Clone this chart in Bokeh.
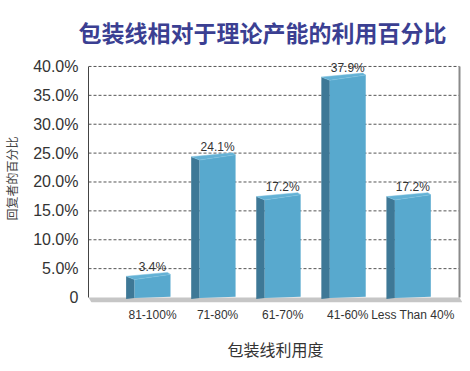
from bokeh.plotting import figure
from bokeh.models import FixedTicker, Range1d, ColumnDataSource
from bokeh.embed import file_html
from bokeh.resources import INLINE

# ---- data ----
categories = ["81-100%", "71-80%", "61-70%", "41-60%", "Less Than 40%"]
values = [3.4, 24.1, 17.2, 37.9, 17.2]
bar_labels = ["3.4%", "24.1%", "17.2%", "37.9%", "17.2%"]
y_ticks = [0, 5, 10, 15, 20, 25, 30, 35, 40]
y_tick_labels = ["0", "5.0%", "10.0%", "15.0%", "20.0%", "25.0%", "30.0%", "35.0%", "40.0%"]
title_text = "包装线相对于理论产能的利用百分比"
x_title = "包装线利用度"
y_title = "回复者的百分比"

# ---- geometry (styles / layout) ----
X_START, X_END = 0.016, 5.763
WALL_X = 5.717
Y_START, Y_END = -0.862, 42.07
FRAME_LEFT = 87
FRAME_BOTTOM = 303
HW = 0.276      # half width of the bar front
D = 0.13        # depth of the side face
FRONT = "#58A9CE"
SIDE = "#3E7896"
TOP = "#63B1D5"

xs_pos = [i + 1 for i in range(len(categories))]

p = figure(width=462, height=363, output_backend="svg", toolbar_location=None,
           x_range=Range1d(X_START, X_END), y_range=Range1d(Y_START, Y_END),
           min_border_left=FRAME_LEFT, min_border_right=0, min_border_top=54,
           min_border_bottom=363 - FRAME_BOTTOM)
p.outline_line_color = None
p.xgrid.visible = False
p.ygrid.visible = False
p.background_fill_color = "white"

# title
p.title.text = title_text
p.title.text_font = "Noto Sans CJK SC"
p.title.text_font_size = "23px"
p.title.text_font_style = "bold"
p.title.text_color = "#3B3F92"
p.title.align = "left"
p.title.offset = -10
p.title.standoff = 12

# dashed gridlines
grid_y = [t for t in y_ticks if t > 0]
p.segment(x0=[X_START] * len(grid_y), y0=grid_y, x1=[WALL_X] * len(grid_y), y1=grid_y,
          line_color="#555555", line_width=1, line_dash="3 2")

# floor
p.patch(x=[X_START, WALL_X, X_END, X_START + 0.046],
        y=[0, 0, Y_START, Y_START], fill_color="#C6C6C6", line_color=None)

# right wall
p.segment(x0=[WALL_X], y0=[0], x1=[WALL_X], y1=[y_ticks[-1]], line_color="#8A8A8A", line_width=2)

# bars (pseudo 3D)
side_xs, side_ys, front_xs, front_ys, top_xs, top_ys = [], [], [], [], [], []
for c, v in zip(xs_pos, values):
    x0, x1 = c - HW, c + HW
    side_xs.append([x0 - D, x0, x0, x0 - D])
    side_ys.append([-0.25, -0.1, v - 0.3, v + 0.27])
    front_xs.append([x0, x1, x1, x0])
    front_ys.append([-0.1, 0.15, v + 0.6, v - 0.3])
    top_xs.append([x0 - D, x0, x1, x1 - 0.046])
    top_ys.append([v + 0.27, v - 0.3, v + 0.6, v + 0.95])

p.patches(xs=side_xs, ys=side_ys, fill_color=SIDE, line_color=None)
p.patches(xs=front_xs, ys=front_ys, fill_color=FRONT, line_color=None)
p.patches(xs=top_xs, ys=top_ys, fill_color=TOP, line_color="#7CC0DE", line_width=0.5)

src = ColumnDataSource(dict(x=xs_pos, y=values, t=bar_labels))
p.text(x="x", y="y", text="t", source=src, text_align="center", text_baseline="alphabetic",
       y_offset=-11, text_font_size="12px", text_color="#333333",
       text_font={"value": "Liberation Sans"})

# y axis
ya = p.yaxis[0]
ya.ticker = FixedTicker(ticks=y_ticks)
ya.major_label_overrides = {t: l for t, l in zip(y_ticks, y_tick_labels)}
ya.bounds = (0, y_ticks[-1])
ya.axis_line_color = "#444444"
ya.axis_line_width = 1
ya.major_tick_line_color = None
ya.minor_tick_line_color = None
ya.major_tick_out = 0
ya.major_tick_in = 0
ya.major_label_standoff = 10
ya.major_label_text_font = "Liberation Sans"
ya.major_label_text_font_size = "16px"
ya.major_label_text_color = "#333333"
ya.axis_label = y_title
ya.axis_label_text_font = "Noto Sans CJK SC"
ya.axis_label_text_font_size = "12px"
ya.axis_label_text_font_style = "normal"
ya.axis_label_text_color = "#444444"
ya.axis_label_standoff = 10

# x axis
xa = p.xaxis[0]
xa.ticker = FixedTicker(ticks=xs_pos)
xa.major_label_overrides = {x: l for x, l in zip(xs_pos, categories)}
xa.axis_line_color = None
xa.major_tick_line_color = None
xa.minor_tick_line_color = None
xa.major_tick_out = 0
xa.major_tick_in = 0
xa.major_label_standoff = 5
xa.major_label_text_font = "Liberation Sans"
xa.major_label_text_font_size = "12px"
xa.major_label_text_color = "#333333"
xa.axis_label = x_title
xa.axis_label_text_font = "Noto Sans CJK SC"
xa.axis_label_text_font_size = "16px"
xa.axis_label_text_font_style = "normal"
xa.axis_label_text_color = "#333333"
xa.axis_label_standoff = 12

open("out.html", "w").write(file_html(p, INLINE))
